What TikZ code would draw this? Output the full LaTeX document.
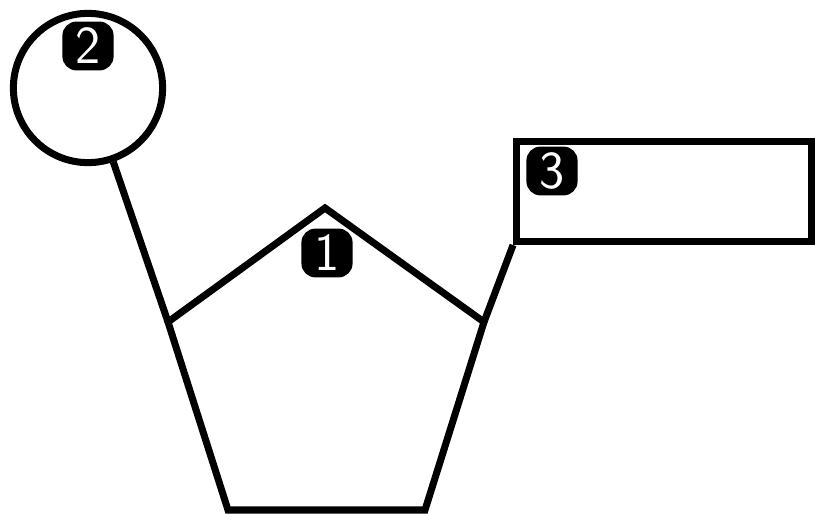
\documentclass[tikz,border=0pt]{standalone}
\usepackage{tikz}
\usetikzlibrary{positioning,calc}

\tikzset{
    part/.style={draw=black, line width=5pt},
    numbox/.style={fill=black, text=white, rounded corners=10pt, inner sep=0pt,
        minimum width=1.28cm, minimum height=1.22cm,
        font=\sffamily\fontsize{38}{38}\selectfont},
}

\begin{document}
\begin{tikzpicture}[x=0.025cm, y=-0.025cm]
        \useasboundingbox (0,0) rectangle (815,513);
        % sugar ring
        \coordinate (top) at (325,208);
        \coordinate (left) at (168,322);
        \coordinate (right) at (484,322);
        \coordinate (botL) at (228,510);
        \coordinate (botR) at (425,510);
        \draw[part, line join=miter] (top) -- (right) -- (botR) -- (botL) -- (left) -- cycle;
        % phosphate and base
        \node[part, circle, minimum size=3.73cm, inner sep=0pt] (phos) at (88,88) {};
        \node[part, rectangle, minimum width=7.37cm, minimum height=2.5cm, inner sep=0pt] (base) at (664,191.5) {};
        \draw[part] (phos) -- (left);
        \draw[part] (base.south west) -- (right);
        % numbers
        \node[numbox] (n1) at (327,253) {1};
        \node[numbox] (n2) at (88,46) {2};
        \node[numbox] (n3) at (552,171) {3};
    \end{tikzpicture}
\end{document}
